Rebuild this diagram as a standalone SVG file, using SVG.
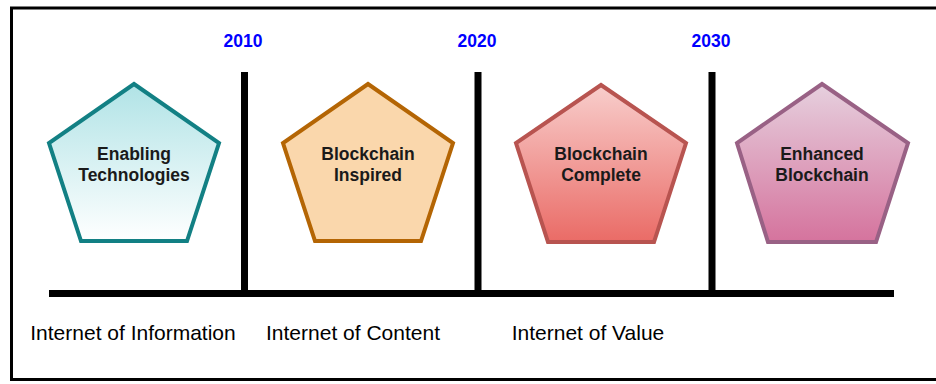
<svg xmlns="http://www.w3.org/2000/svg" width="936" height="384" viewBox="0 0 936 384">
  <defs>
    <linearGradient id="gTeal" x1="0" y1="0" x2="0" y2="1">
      <stop offset="0" stop-color="#b0e3e6"/>
      <stop offset="1" stop-color="#ffffff"/>
    </linearGradient>
    <linearGradient id="gRed" x1="0" y1="0" x2="0" y2="1">
      <stop offset="0" stop-color="#f8cecc"/>
      <stop offset="1" stop-color="#ea6b66"/>
    </linearGradient>
    <linearGradient id="gPink" x1="0" y1="0" x2="0" y2="1">
      <stop offset="0" stop-color="#e6d0de"/>
      <stop offset="1" stop-color="#d5739d"/>
    </linearGradient>
  </defs>
  <style>
    .frame { fill: #ffffff; stroke: #000000; stroke-width: 3; }
    .axis { stroke: #000000; stroke-width: 7; fill: none; }
    .pent { stroke-width: 4; stroke-linejoin: miter; }
    .lbl { font-family: "Liberation Sans", Arial, sans-serif; font-size: 17.5px; font-weight: bold; fill: #1a1a1a; text-anchor: middle; }
    .year { font-family: "Liberation Sans", Arial, sans-serif; font-size: 17.5px; font-weight: bold; fill: #0000ff; text-anchor: middle; }
    .era { font-family: "Liberation Sans", Arial, sans-serif; font-size: 21px; fill: #000000; text-anchor: middle; }
  </style>
  <rect x="0" y="0" width="936" height="384" fill="#ffffff"/>
  <rect class="frame" x="11.5" y="8" width="940" height="371.5"/>

  <g id="connectors">
    <line class="axis" x1="49" y1="293.5" x2="894" y2="293.5"/>
    <line class="axis" x1="244.5" y1="72" x2="244.5" y2="293.5"/>
    <line class="axis" x1="478" y1="72" x2="478" y2="293.5"/>
    <line class="axis" x1="712" y1="72" x2="712" y2="293.5"/>
  </g>

  <g id="year-2010"><text class="year" x="243" y="47">2010</text></g>
  <g id="year-2020"><text class="year" x="477" y="47">2020</text></g>
  <g id="year-2030"><text class="year" x="711" y="47">2030</text></g>

  <g id="node-enabling">
    <polygon class="pent" points="134,84 219,143 187,241 81,241 49,143" fill="url(#gTeal)" stroke="#128084"/>
    <text class="lbl" x="134" y="160">Enabling</text>
    <text class="lbl" x="134" y="181">Technologies</text>
  </g>
  <g id="node-inspired">
    <polygon class="pent" points="368,84 453,143 421,241 315,241 283,143" fill="#fad7ac" stroke="#b46504"/>
    <text class="lbl" x="368" y="160">Blockchain</text>
    <text class="lbl" x="368" y="181">Inspired</text>
  </g>
  <g id="node-complete">
    <polygon class="pent" points="601,85 686,143 654,242 548,242 516,143" fill="url(#gRed)" stroke="#b85450"/>
    <text class="lbl" x="601" y="160">Blockchain</text>
    <text class="lbl" x="601" y="181">Complete</text>
  </g>
  <g id="node-enhanced">
    <polygon class="pent" points="822,84 908,143 876,242 768,242 737,143" fill="url(#gPink)" stroke="#996185"/>
    <text class="lbl" x="822" y="160">Enhanced</text>
    <text class="lbl" x="822" y="181">Blockchain</text>
  </g>

  <g id="era-information"><text class="era" x="133" y="340">Internet of Information</text></g>
  <g id="era-content"><text class="era" x="353" y="340">Internet of Content</text></g>
  <g id="era-value"><text class="era" x="588" y="340">Internet of Value</text></g>
</svg>
